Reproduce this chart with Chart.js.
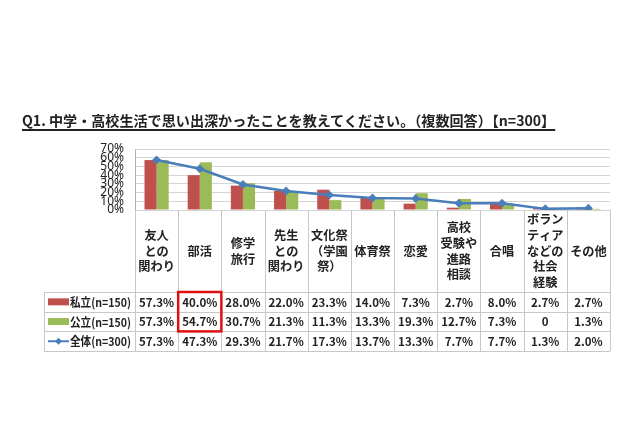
<!DOCTYPE html>
<html lang="ja">
<head>
<meta charset="UTF-8">
<title>Q1. 中学・高校生活で思い出深かったこと</title>
<script src="https://cdn.jsdelivr.net/npm/chart.js@4"></script>
<style>
body {
    margin: 0;
    padding: 0;
    background: white;
    width: 640px;
    height: 426px;
    position: relative;
    overflow: hidden;
    font-family: 'Noto Sans CJK JP', 'Noto Sans', sans-serif;
}

.title {
    position: absolute;
    left: 22px;
    top: 111px;
    margin: 0;
    font-size: 14.1px;
    font-weight: bold;
    color: #222;
    text-decoration: underline;
    text-underline-offset: 3px;
    text-decoration-thickness: 1.5px;
    white-space: nowrap;
    line-height: 18px;
}

.chart-box {
    position: absolute;
    left: 0;
    top: 0;
    width: 640px;
    height: 426px;
}
</style>
</head>
<body>
<div class="chart-box"><canvas id="grafico" width="640" height="426"></canvas></div>
<h1 class="title">Q1. 中学・高校生活で思い出深かったことを教えてください。（複数回答）【n=300】</h1>

<script>
// datos (porcentajes)
const categorias = [
    ['友人', 'との', '関わり'],
    ['部活'],
    ['修学', '旅行'],
    ['先生', 'との', '関わり'],
    ['文化祭', '（学園', '祭）'],
    ['体育祭'],
    ['恋愛'],
    ['高校', '受験や', '進路', '相談'],
    ['合唱'],
    ['ボラン', 'ティア', 'などの', '社会', '経験'],
    ['その他']
];
const privado = [57.3, 40.0, 28.0, 22.0, 23.3, 14.0, 7.3, 2.7, 8.0, 2.7, 2.7];
const publico = [57.3, 54.7, 30.7, 21.3, 11.3, 13.3, 19.3, 12.7, 7.3, 0, 1.3];
const total = [57.3, 47.3, 29.3, 21.7, 17.3, 13.7, 13.3, 7.7, 7.7, 1.3, 2.0];
const series = ['私立(n=150)', '公立(n=150)', '全体(n=300)'];
const yTicks = [0, 10, 20, 30, 40, 50, 60, 70];
const resaltado = { col: 1, filas: [0, 1] }; // recuadro rojo en 部活

const rojo = '#c0504d';
const verde = '#9bbb59';
const azul = '#4a7ebb';
const fuente = "'Noto Sans CJK JP', 'Noto Sans', sans-serif";

function fmt(v) {
    return v === 0 ? '0' : v.toFixed(1) + '%';
}

// tabla de datos debajo del grafico (estilo Excel)
const tablaPlugin = {
    id: 'tabla',
    afterDraw(chart) {
        const c = chart.ctx;
        const xs = chart.scales.x;
        const area = chart.chartArea;
        const n = categorias.length;
        const ancho = (area.right - area.left) / n;
        const top = area.bottom;
        const filaCat = 82;
        const altoFila = 19.7;
        const tablaIzq = 44;
        const filasY = [top + filaCat];
        for (let i = 1; i <= 3; i++) filasY.push(top + filaCat + altoFila * i);

        c.save();
        c.strokeStyle = '#c8c8c8';
        c.lineWidth = 1;
        // verticales
        c.beginPath();
        for (let i = 0; i <= n; i++) {
            const x = Math.round(area.left + ancho * i) + 0.5;
            c.moveTo(x, top);
            c.lineTo(x, filasY[3]);
        }
        c.moveTo(tablaIzq + 0.5, filasY[0]);
        c.lineTo(tablaIzq + 0.5, filasY[3]);
        // horizontales
        filasY.forEach(y => {
            c.moveTo(tablaIzq, Math.round(y) + 0.5);
            c.lineTo(area.right, Math.round(y) + 0.5);
        });
        c.stroke();

        // etiquetas de categoria
        c.fillStyle = '#222';
        c.textAlign = 'center';
        c.textBaseline = 'middle';
        c.font = 'bold 12.2px ' + fuente;
        const lh = 15.8;
        const midCat = top + filaCat / 2;
        categorias.forEach((lineas, i) => {
            const x = xs.getPixelForValue(i);
            const y0 = midCat - (lineas.length - 1) * lh / 2;
            lineas.forEach((t, j) => c.fillText(t, x, y0 + j * lh));
        });

        // valores
        const datos = [privado, publico, total];
        c.font = 'bold 11.5px ' + fuente;
        datos.forEach((serie, r) => {
            const y = filasY[r] + altoFila / 2 + 0.5;
            serie.forEach((v, i) => c.fillText(fmt(v), xs.getPixelForValue(i), y));
        });

        // leyenda de la tabla
        c.textAlign = 'left';
        c.font = 'bold 12px ' + fuente;
        series.forEach((s, r) => {
            const y = filasY[r] + altoFila / 2;
            if (r < 2) {
                c.fillStyle = r === 0 ? rojo : verde;
                c.fillRect(48, y - 3.5, 21, 7);
            } else {
                c.strokeStyle = azul;
                c.lineWidth = 2;
                c.beginPath();
                c.moveTo(48, y);
                c.lineTo(69, y);
                c.stroke();
                c.fillStyle = azul;
                c.beginPath();
                c.moveTo(58.5, y - 3.5);
                c.lineTo(62, y);
                c.lineTo(58.5, y + 3.5);
                c.lineTo(55, y);
                c.closePath();
                c.fill();
            }
            c.fillStyle = '#222';
            c.fillText(s, 70, y + 0.5, area.left - 74);
        });

        // recuadro rojo
        const xr = area.left + ancho * resaltado.col;
        const f0 = Math.min(...resaltado.filas);
        const f1 = Math.max(...resaltado.filas);
        c.strokeStyle = '#e01010';
        c.lineWidth = 2.5;
        c.strokeRect(xr, filasY[f0], ancho, filasY[f1 + 1] - filasY[f0]);
        c.restore();
    }
};

const ctx = document.getElementById('grafico').getContext('2d');
const chart = new Chart(ctx, {
    type: 'bar',
    data: {
        labels: categorias.map(l => l.join('')),
        datasets: [
            {
                label: series[0],
                data: privado,
                backgroundColor: rojo,
                order: 2
            },
            {
                label: series[1],
                data: publico,
                backgroundColor: verde,
                order: 2
            },
            {
                type: 'line',
                label: series[2],
                data: total,
                borderColor: azul,
                backgroundColor: azul,
                borderWidth: 2.5,
                pointStyle: 'rectRot',
                pointRadius: 4.5,
                pointBorderWidth: 0,
                tension: 0,
                order: 1
            }
        ]
    },
    options: {
        responsive: false,
        animation: false,
        devicePixelRatio: 1,
        layout: {
            padding: { top: 149, right: 30, bottom: 216, left: 0 }
        },
        datasets: {
            bar: { categoryPercentage: 0.56, barPercentage: 1 }
        },
        plugins: {
            legend: { display: false },
            tooltip: { enabled: false }
        },
        scales: {
            x: { display: false },
            y: {
                min: 0,
                max: 70,
                afterBuildTicks(scale) {
                    scale.ticks = yTicks.map(v => ({ value: v }));
                },
                afterFit(scale) {
                    scale.width = 135;
                },
                border: { color: '#b0b0b0' },
                grid: { color: '#d4d4d4', drawTicks: false },
                ticks: {
                    autoSkip: false,
                    padding: 11,
                    color: '#222',
                    font: { family: "'Liberation Sans Narrow', 'Noto Sans', sans-serif", size: 12 },
                    callback: v => v + '%'
                }
            }
        }
    },
    plugins: [tablaPlugin]
});
</script>
</body>
</html>
